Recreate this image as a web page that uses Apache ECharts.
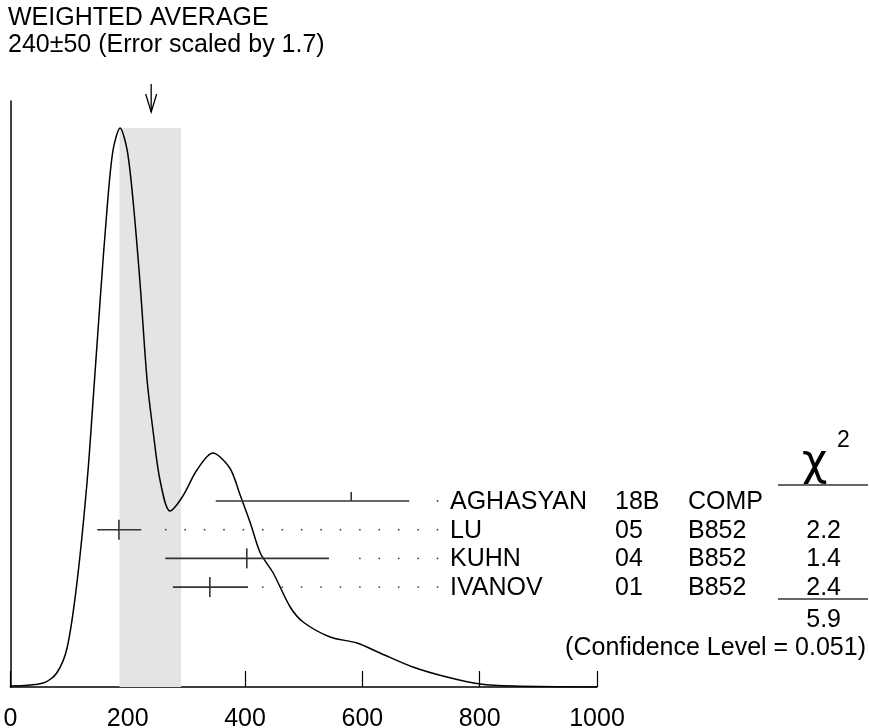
<!DOCTYPE html>
<html style="height: 100%">
<head>
<meta charset="utf-8">
<script src="https://cdn.jsdelivr.net/npm/echarts@6/dist/echarts.min.js"></script>
</head>
<body style="height: 100%; margin: 0; background: #fff">
<div id="container" style="width: 869px; height: 728px"></div>
<script type="text/javascript">
// ideogram curve (x value, height in axis units)
var curveX = [0, 56, 79, 97, 114, 131, 141, 153, 165, 175, 187, 199, 209, 221, 233, 243, 255, 272, 293, 318, 345, 374, 391, 409, 426, 448, 477, 499, 545, 591, 630, 686, 744, 801, 857, 1000];
var curveH = [1, 4, 14, 40, 107, 207, 287, 387, 480, 537, 559, 537, 487, 404, 307, 257, 207, 176, 190, 217, 234, 219, 193, 164, 134, 114, 80, 65, 50, 44, 34, 20, 10, 3, 1, 0];

// measurements
var names   = ['AGHASYAN', 'LU', 'KUHN', 'IVANOV'];
var years   = ['18B', '05', '04', '01'];
var techs   = ['COMP', 'B852', 'B852', 'B852'];
var centers = [581, 185, 403, 340];
var lows    = [350, 148, 264, 277];
var highs   = [680, 223, 543, 405];
var chi2    = ['', '2.2', '1.4', '2.4'];
var inFit   = [false, true, true, true];

// weighted average and its band
var avgValue = 240;
var bandRange = [186, 291];
var bandTop = 559;
var chi2Sum = '5.9';
var confLevel = '0.051';

var FONT = "'Liberation Sans', Arial, Helvetica, sans-serif";
var FS = 25;
var ROW_TOP = 186, ROW_STEP = 28.7;
var DOT_STEP = 33.1, DOT_END = 730, DOT_GAP = 22;

var barData = names.map(function (n, i) { return [lows[i], highs[i], centers[i], i]; });

var dom = document.getElementById('container');
var myChart = echarts.init(dom, null, {renderer: 'canvas'});

function txt(text, x, y, size, align, family) {
    return {
        type: 'text',
        style: {text: text, x: x, y: y, fill: '#000', font: size + 'px ' + (family || FONT),
                align: align || 'left', verticalAlign: 'middle'}
    };
}

var option = {
    animation: false,
    grid: {left: 10.4, right: 272, top: 101, bottom: 41, containLabel: false, outerBoundsMode: 'none'},
    xAxis: {
        type: 'value', min: 0, max: 1000, interval: 200,
        axisLine: {lineStyle: {color: '#000', width: 1.5}},
        axisTick: {inside: true, length: 16, lineStyle: {color: '#000', width: 1.2}},
        axisLabel: {color: '#000', fontSize: FS, fontFamily: FONT, margin: 20,
                    showMinLabel: true, showMaxLabel: true,
                    formatter: function (v) { return String(v); }},
        splitLine: {show: false}
    },
    yAxis: {
        type: 'value', min: 0, max: 586,
        axisLine: {show: true, lineStyle: {color: '#000', width: 1.5}},
        axisTick: {show: false}, axisLabel: {show: false}, splitLine: {show: false}
    },
    series: [
        {
            // error band of the average
            type: 'custom', z: 1,
            data: [[bandRange[0], bandRange[1], bandTop]],
            renderItem: function (params, api) {
                var a = api.coord([api.value(0), api.value(2)]);
                var b = api.coord([api.value(1), 0]);
                return {type: 'rect', shape: {x: a[0], y: a[1], width: b[0] - a[0], height: b[1] - a[1]},
                        style: {fill: '#e4e4e4'}};
            }
        },
        {
            type: 'line', z: 3, smooth: 0.3, showSymbol: false,
            data: curveX.map(function (x, i) { return [x, curveH[i]]; }),
            lineStyle: {color: '#000', width: 1.5}
        },
        {
            type: 'custom', z: 4, clip: false,
            data: barData,
            renderItem: function (params, api) {
                var i = api.value(3);
                var yv = ROW_TOP - i * ROW_STEP;
                var p0 = api.coord([api.value(0), yv]);
                var p1 = api.coord([api.value(1), yv]);
                var pc = api.coord([api.value(2), yv]);
                var y = p0[1];
                var kids = [
                    {type: 'line', shape: {x1: p0[0], y1: y, x2: p1[0], y2: y},
                     style: {stroke: '#333', lineWidth: 1.6}},
                    {type: 'line', shape: {x1: pc[0], y1: y - (inFit[i] ? 10 : 9), x2: pc[0], y2: inFit[i] ? y + 10 : y},
                     style: {stroke: '#333', lineWidth: 1.6}}
                ];
                for (var k = 1; k * DOT_STEP <= DOT_END; k++) {
                    var v = k * DOT_STEP;
                    if (v > api.value(1) + DOT_GAP) {
                        var d = api.coord([v, yv]);
                        kids.push({type: 'circle', shape: {cx: d[0], cy: y, r: 0.9}, style: {fill: '#444'}});
                    }
                }
                kids.push(txt(names[i], 450, y + 1, FS));
                kids.push(txt(years[i], 615, y + 1, FS));
                kids.push(txt(techs[i], 688, y + 1, FS));
                if (chi2[i]) kids.push(txt(chi2[i], 841, y + 1, FS, 'right'));
                return {type: 'group', children: kids};
            }
        },
        {
            // arrow pointing at the weighted average
            type: 'custom', z: 5, clip: false,
            data: [[avgValue]],
            renderItem: function (params, api) {
                var x = api.coord([api.value(0), 0])[0];
                return {type: 'group', children: [
                    {type: 'line', shape: {x1: x, y1: 84, x2: x, y2: 112}, style: {stroke: '#000', lineWidth: 1.3}},
                    {type: 'polyline', shape: {points: [[x - 5.5, 94], [x, 112], [x + 5.5, 94]]},
                     style: {stroke: '#000', lineWidth: 1.3, fill: null}}
                ]};
            }
        }
    ],
    graphic: [
        txt('WEIGHTED AVERAGE', 8, 18, FS),
        txt(avgValue + '\u00b150 (Error scaled by 1.7)', 8, 45, FS),
        txt('\u03c7', 802, 464, 44, 'left', "'DejaVu Sans', sans-serif"),
        txt('2', 837, 441, 23),
        {type: 'line', shape: {x1: 778, y1: 485, x2: 868, y2: 485}, style: {stroke: '#333', lineWidth: 1.3}},
        {type: 'line', shape: {x1: 778, y1: 599, x2: 868, y2: 599}, style: {stroke: '#333', lineWidth: 1.3}},
        txt(chi2Sum, 841, 620, FS, 'right'),
        txt('(Confidence Level = ' + confLevel + ')', 866, 648, FS, 'right')
    ]
};

if (option && typeof option === "object") {
    myChart.setOption(option, true);
}
</script>
</body>
</html>
